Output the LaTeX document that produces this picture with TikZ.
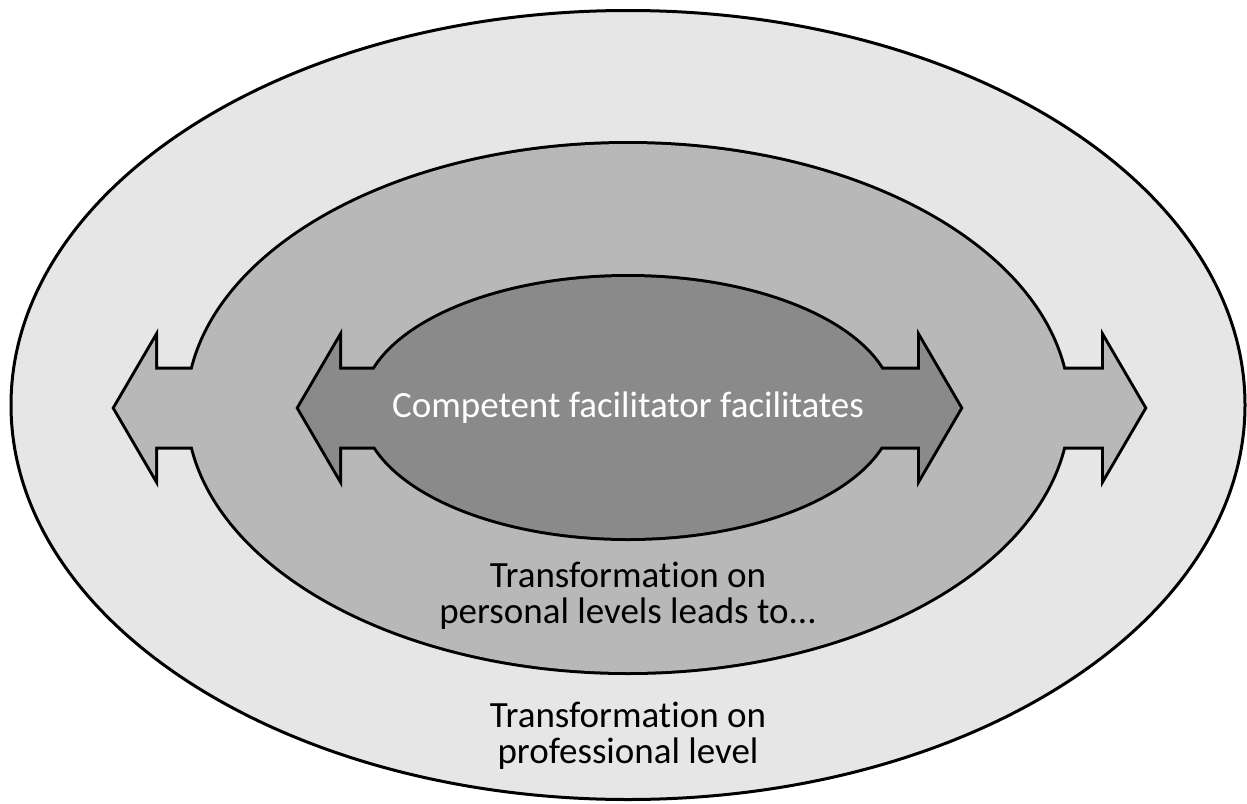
\documentclass[tikz,border=0pt]{standalone}
\usepackage{fontspec}
\setmainfont[Ligatures=NoCommon]{Carlito}
\usepackage{tikz}
\usetikzlibrary{positioning}
\definecolor{outergray}{HTML}{E6E6E6}
\definecolor{midgray}{HTML}{B8B8B8}
\definecolor{innergray}{HTML}{8A8A8A}

\begin{document}
\begin{tikzpicture}[x=0.5pt, y=-0.5pt, line width=1.5pt,
    ringtext/.style={font=\fontsize{18.5}{18}\selectfont, align=center, inner sep=0pt}]
    \useasboundingbox (0,0) rectangle (1247,803);

    % Outer ring
    \filldraw[fill=outergray] (628,405) ellipse (617 and 394.5);

    % Double arrow and ring as one shape: outline first, fill over it
    \foreach \len/\col/\rx/\ry/\cy in {514.5/midgray/440/264/408, 330.5/innergray/265/130.5/407.5} {
      \path[fill=\col, preaction={draw, line width=3pt}]
        (629.5-\len,408) -- ++(40,-68.5) -- ++(0,30)
        -- ++({2*\len-80},0) -- ++(0,-30) -- ++(40,68.5) -- ++(-40,68.5)
        -- ++(0,-30) -- ++({80-2*\len},0) -- ++(0,30) -- cycle
        (628,\cy) ellipse ({\rx} and {\ry});
    }

    % Labels
    \node[ringtext, text=white] (core) at (628,408) {Competent facilitator facilitates};
    \node[ringtext] (personal) at (628,596) {Transformation on\\personal levels leads to...};
    \node[ringtext] (professional) at (628,736) {Transformation on\\professional level};
\end{tikzpicture}
\end{document}
